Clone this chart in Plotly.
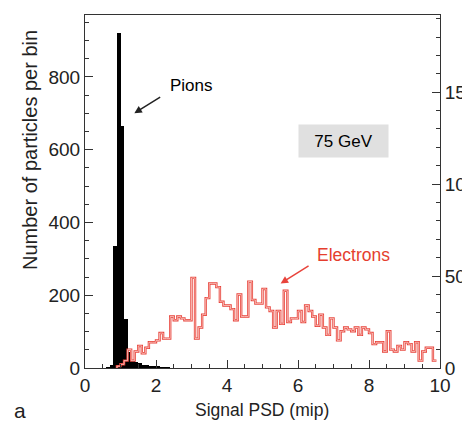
import plotly.graph_objects as go

# ---- data ----
pion_start = 0.6
pion_bin = 0.1
pions = [2, 8, 335, 920, 665, 135, 45, 22, 17, 14, 9, 8, 6, 4, 3, 2, 2, 1]

elec_start = 0.9
elec_bin = 0.1
electrons = [1, 2, 4, 10, 4, 9, 12, 8, 11, 14,
             14, 15, 19, 16, 16, 28, 26, 28, 27, 26,
             26, 49, 16, 22, 29, 38, 46, 46, 44, 36,
             34, 34, 32, 26, 40, 28, 28, 47, 37, 35,
             35, 43, 33, 31, 22, 31, 24, 42, 25, 27,
             27, 31, 25, 34, 31, 28, 23, 29, 22, 18,
             27, 22, 15, 20, 22, 21, 20, 22, 18, 22,
             21, 19, 13, 14, 14, 9, 20, 10, 9, 12,
             10, 14, 13, 9, 14, 4, 9, 11, 11, 4]

x_ticks = [0, 2, 4, 6, 8, 10]
yl_ticks = [0, 200, 400, 600, 800]
yr_ticks = [0, 50, 100, 150]

FONT = "Liberation Sans, Arial, Helvetica, sans-serif"
AX = "#333333"
RED = "#e8433b"

# ---- derived geometry from bins ----
pion_x = [pion_start + pion_bin * (i + 0.5) for i in range(len(pions))]
edges = [elec_start + elec_bin * i for i in range(len(electrons) + 1)]
ex = [edges[0]] + edges[:-1] + [edges[-1]]
ey = [0] + electrons + [electrons[-1]]

fig = go.Figure()
fig.add_trace(go.Bar(x=pion_x, y=pions, width=pion_bin,
                     marker=dict(color="black", line=dict(width=0)),
                     yaxis="y", showlegend=False))
fig.add_trace(go.Scatter(x=ex, y=ey, mode="lines", line_shape="hv",
                         line=dict(color=RED, width=2.4),
                         yaxis="y2", showlegend=False))
fig.add_trace(go.Scatter(x=ex, y=ey, mode="lines", line_shape="hv",
                         line=dict(color="#fde4de", width=0.7),
                         yaxis="y2", showlegend=False))

common = dict(showgrid=False, zeroline=False, showline=True, linecolor=AX,
              linewidth=1, ticks="inside", ticklen=8, tickcolor=AX, tickwidth=1,
              automargin=False,
              tickfont=dict(family=FONT, size=19, color="#222222"))

fig.update_layout(
    width=462, height=424,
    margin=dict(l=85, r=22, t=15, b=56),
    paper_bgcolor="white", plot_bgcolor="white",
    bargap=0,
    xaxis=dict(range=[0, 10], tickvals=x_ticks, mirror=True,
               minor=dict(dtick=0.5, ticks="inside", ticklen=4, tickcolor=AX),
               **common),
    yaxis=dict(range=[0, 970], tickvals=yl_ticks,
               minor=dict(dtick=50, ticks="inside", ticklen=4, tickcolor=AX),
               **common),
    yaxis2=dict(range=[0, 192], tickvals=yr_ticks, overlaying="y", side="right",
                minor=dict(dtick=10, ticks="inside", ticklen=4, tickcolor=AX),
                **common),
)

ann = []
# axis titles
ann.append(dict(text="Signal PSD (mip)", xref="paper", yref="paper",
                x=(262 - 85) / 355, y=-(410 - 368) / 353, showarrow=False,
                font=dict(family=FONT, size=17.5, color="#222222"),
                xanchor="center", yanchor="middle"))
ann.append(dict(text="Number of particles per bin", xref="paper", yref="paper",
                x=-(85 - 30) / 355, y=(368 - 150) / 353, textangle=-90, showarrow=False,
                font=dict(family=FONT, size=20, color="#222222"),
                xanchor="center", yanchor="middle"))
ann.append(dict(text="a", xref="paper", yref="paper",
                x=-(85 - 20) / 355, y=-(410 - 368) / 353, showarrow=False,
                font=dict(family=FONT, size=21, color="#222222"),
                xanchor="center", yanchor="middle"))
# labels
ann.append(dict(text="Pions", x=3.0, y=777, xref="x", yref="y", showarrow=False,
                font=dict(family=FONT, size=17, color="black")))
ann.append(dict(text="", x=1.39, y=700, ax=2.16, ay=747, xref="x", yref="y",
                axref="x", ayref="y", showarrow=True, arrowhead=2, arrowsize=1,
                arrowwidth=1.5, arrowcolor="#222222"))
ann.append(dict(text="75 GeV", x=7.28, y=624, xref="x", yref="y", showarrow=False,
                width=87, height=30, bgcolor="#e0e0e0",
                font=dict(family=FONT, size=17, color="black")))
ann.append(dict(text="Electrons", x=7.56, y=61.4, xref="x", yref="y2", showarrow=False,
                font=dict(family=FONT, size=17.5, color="#e53e2e")))
ann.append(dict(text="", x=5.51, y=46, ax=6.34, ay=56, xref="x", yref="y2",
                axref="x", ayref="y2", showarrow=True, arrowhead=2, arrowsize=1,
                arrowwidth=1.5, arrowcolor=RED))
fig.update_layout(annotations=ann)

fig.write_html("out.html")
